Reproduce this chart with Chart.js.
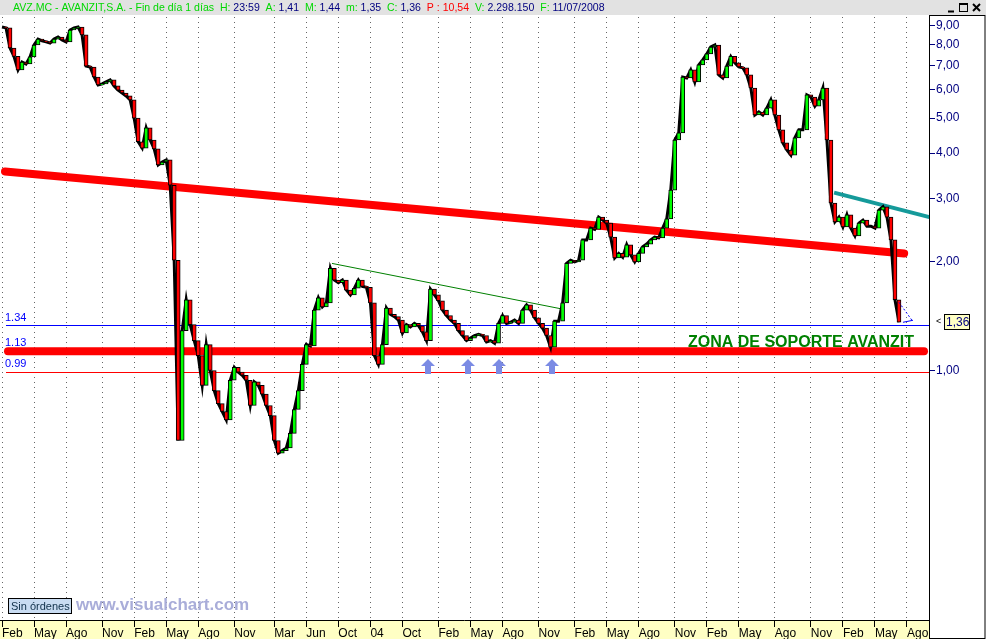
<!DOCTYPE html>
<html lang="es">
<head>
<meta charset="utf-8">
<title>AVZ.MC - AVANZIT</title>
<script src="https://cdn.jsdelivr.net/npm/chart.js@4/dist/chart.umd.min.js"></script>
<style>
  html, body { margin: 0; padding: 0; background: #fff; }
  #grafico { display: block; }
</style>
</head>
<body>
<canvas id="grafico" width="986" height="639"></canvas>
<script>
// Datos (cierres por barra, escala logarítmica)
const totalBarras = 232;
const nombresMes = ["Feb","May","Ago","Nov","Feb","May","Ago","Nov","Mar","Jun","Oct","04","Oct","Feb","May","Ago","Nov","Feb","May","Ago","Nov","Feb","May","Ago","Nov","Feb","May","Ago"];
const indicesMes = [0,8,16,25,33,41,49,58,68,76,84,92,100,109,117,125,134,143,151,159,168,176,184,193,202,210,218,226];

const cierres = [
  8.94, 8.89, 7.82, 7.41, 6.80, 7.15, 7.06, 7.39, 7.97, 8.28,
  8.18, 8.13, 8.07, 8.28, 8.39, 8.23, 8.13, 8.77, 8.89, 8.94,
  8.50, 6.97, 6.93, 6.50, 6.18, 6.22, 6.30, 6.38, 6.14, 5.98,
  5.87, 5.76, 5.62, 5.00, 4.30, 4.13, 4.70, 4.35, 4.11, 3.71,
  3.78, 3.83, 3.26, 2.02, 0.64, 1.29, 1.57, 1.34, 1.21, 1.10,
  0.91, 1.18, 1.00, 0.88, 0.81, 0.77, 0.73, 0.94, 1.02, 0.99,
  0.97, 0.94, 0.80, 0.93, 0.91, 0.86, 0.80, 0.75, 0.64, 0.59,
  0.60, 0.61, 0.67, 0.78, 0.88, 1.04, 1.18, 1.17, 1.47, 1.59,
  1.50, 1.54, 1.92, 1.78, 1.75, 1.78, 1.67, 1.62, 1.69, 1.78,
  1.71, 1.70, 1.54, 1.10, 1.04, 1.18, 1.49, 1.43, 1.41, 1.38,
  1.27, 1.34, 1.32, 1.35, 1.33, 1.28, 1.21, 1.68, 1.62, 1.56,
  1.47, 1.42, 1.38, 1.35, 1.29, 1.25, 1.21, 1.23, 1.25, 1.26,
  1.25, 1.20, 1.21, 1.19, 1.35, 1.42, 1.35, 1.36, 1.38, 1.35,
  1.47, 1.52, 1.47, 1.40, 1.35, 1.31, 1.25, 1.16, 1.37, 1.37,
  1.54, 1.98, 2.02, 2.00, 2.02, 2.30, 2.30, 2.48, 2.46, 2.66,
  2.61, 2.56, 2.34, 2.05, 2.11, 2.06, 2.23, 2.09, 2.00, 2.11,
  2.20, 2.24, 2.30, 2.34, 2.33, 2.48, 2.63, 3.16, 4.35, 4.55,
  6.50, 6.46, 6.80, 6.30, 7.02, 7.25, 7.53, 7.87, 7.97, 6.59,
  6.46, 6.97, 7.41, 7.11, 6.93, 6.89, 6.59, 6.06, 5.10, 5.20,
  5.10, 5.33, 5.62, 5.10, 4.64, 4.27, 4.08, 3.95, 4.41, 4.64,
  4.64, 5.80, 5.72, 5.40, 5.62, 6.06, 4.35, 2.91, 2.58, 2.66,
  2.50, 2.70, 2.48, 2.36, 2.56, 2.61, 2.51, 2.51, 2.48, 2.78,
  2.84, 2.66, 2.30, 1.57, 1.36
];

const valoresEje = [1, 2, 3, 4, 5, 6, 7, 8, 9];
const ultimoPrecio = 1.36;

// Niveles horizontales y líneas de tendencia (índice de barra, precio)
const nivelSoporteAlto = 1.34;
const nivelSoporte = 1.13;
const nivelSoporteBajo = 0.99;
const resistenciaRoja = [[0.75, 3.56], [225.3, 2.11]];
const directrizVerde = [[82.4, 1.98], [139.9, 1.48]];
const directrizAzul = [[207.8, 3.11], [231.6, 2.66]];
const flechasSoporte = [106.5, 116.3, 124, 137.3];
const precioFlechas = 1.075;

const fuente = "'Liberation Sans', Arial, sans-serif";

// etiquetas del eje x: una por barra, vacía salvo en los meses
const etiquetas = new Array(totalBarras).fill("");
indicesMes.forEach((idx, k) => { etiquetas[idx] = nombresMes[k]; });

// cuerpo de la vela: del cierre anterior al cierre actual
const cuerpos = cierres.map((c, i) => [i > 0 ? cierres[i - 1] : c, c]);
const coloresCuerpo = cuerpos.map(([a, c]) => (c >= a ? "#00ff00" : "#ff0000"));

function linea(ctx, x1, y1, x2, y2, color, ancho, cap) {
    ctx.save();
    ctx.strokeStyle = color;
    ctx.lineWidth = ancho;
    ctx.lineCap = cap || "butt";
    ctx.beginPath();
    ctx.moveTo(x1, y1);
    ctx.lineTo(x2, y2);
    ctx.stroke();
    ctx.restore();
}

const decoracion = {
    id: "decoracion",
    beforeDraw(chart) {
        const ctx = chart.ctx;
        const area = chart.chartArea;
        ctx.save();
        ctx.fillStyle = "#ffffff";
        ctx.fillRect(0, 0, chart.width, chart.height);
        // banda del eje de fechas
        ctx.fillStyle = "#ffffc4";
        ctx.fillRect(0, area.bottom, area.right, chart.height - area.bottom);
        // barra de título
        ctx.fillStyle = "#e2e2e2";
        ctx.fillRect(0, 0, chart.width, 15);
        ctx.restore();
    },
    beforeDatasetsDraw(chart) {
        const ctx = chart.ctx;
        const sx = chart.scales.x, sy = chart.scales.y;
        const area = chart.chartArea;
        const px = i => sx.getPixelForValue(i);
        const py = v => sy.getPixelForValue(v);

        // niveles horizontales
        linea(ctx, 6, Math.round(py(nivelSoporteAlto)) + 0.5, area.right, Math.round(py(nivelSoporteAlto)) + 0.5, "#0000ff", 1);
        linea(ctx, 6, Math.round(py(nivelSoporteBajo)) + 0.5, area.right, Math.round(py(nivelSoporteBajo)) + 0.5, "#ff0000", 1);
        linea(ctx, 8, py(nivelSoporte), area.right - 5, py(nivelSoporte), "#ff0000", 8, "round");

        // líneas de tendencia
        linea(ctx, px(resistenciaRoja[0][0]), py(resistenciaRoja[0][1]), px(resistenciaRoja[1][0]), py(resistenciaRoja[1][1]), "#ff0000", 8, "round");
        linea(ctx, px(directrizVerde[0][0]), py(directrizVerde[0][1]), px(directrizVerde[1][0]), py(directrizVerde[1][1]), "#008000", 1);
        linea(ctx, px(directrizAzul[0][0]), py(directrizAzul[0][1]), px(directrizAzul[1][0]), py(directrizAzul[1][1]), "#159a9a", 4);

        // rótulos de los niveles
        ctx.save();
        ctx.fillStyle = "#0000ff";
        ctx.font = "11px " + fuente;
        ctx.textBaseline = "alphabetic";
        ctx.fillText("1.34", 5, py(nivelSoporteAlto) - 4);
        ctx.fillText("1.13", 5, py(nivelSoporte) - 5);
        ctx.fillText("0.99", 5, py(nivelSoporteBajo) - 5);
        ctx.restore();
    },
    afterDatasetsDraw(chart) {
        const ctx = chart.ctx;
        const sx = chart.scales.x, sy = chart.scales.y;
        const px = i => sx.getPixelForValue(i);
        const py = v => sy.getPixelForValue(v);

        // flechas de soporte
        ctx.save();
        ctx.fillStyle = "#7b8be4";
        flechasSoporte.forEach(i => {
            const x = Math.round(px(i));
            const y = Math.round(py(precioFlechas));
            ctx.beginPath();
            ctx.moveTo(x, y);
            ctx.lineTo(x + 7, y + 7);
            ctx.lineTo(x + 3, y + 7);
            ctx.lineTo(x + 3, y + 15);
            ctx.lineTo(x - 3, y + 15);
            ctx.lineTo(x - 3, y + 7);
            ctx.lineTo(x - 7, y + 7);
            ctx.closePath();
            ctx.fill();
        });
        ctx.restore();

        // pequeña herramienta de medida al final
        const xf = px(cierres.length - 1), yf = py(ultimoPrecio);
        ctx.save();
        ctx.strokeStyle = "#0000ff";
        ctx.lineWidth = 1;
        ctx.setLineDash([2, 2]);
        ctx.beginPath();
        ctx.moveTo(xf, yf - 20);
        ctx.lineTo(xf + 13, yf - 2);
        ctx.stroke();
        ctx.setLineDash([]);
        ctx.beginPath();
        ctx.moveTo(xf + 4, yf);
        ctx.lineTo(xf + 14, yf - 2);
        ctx.stroke();
        ctx.restore();

        // texto de la zona
        ctx.save();
        ctx.fillStyle = "#008000";
        ctx.font = "bold 16px " + fuente;
        ctx.fillText("ZONA DE SOPORTE AVANZIT", 688, 347);
        ctx.restore();
    },
    afterDraw(chart) {
        const ctx = chart.ctx;
        const area = chart.chartArea;
        const sy = chart.scales.y;

        // título con los datos de la sesión
        const verde = "#00d800", azul = "#000080", rojo = "#ff0000";
        const segmentos = [
            ["AVZ.MC - AVANZIT,S.A. - Fin de día 1 días  ", verde],
            ["H: ", verde], ["23:59", azul],
            ["  A: ", verde], ["1,41", azul],
            ["  M: ", verde], ["1,44", azul],
            ["  m: ", verde], ["1,35", azul],
            ["  C: ", verde], ["1,36", azul],
            ["  P : 10,54", rojo],
            ["  V: ", verde], ["2.298.150", azul],
            ["  F: ", verde], ["11/07/2008", azul]
        ];
        ctx.save();
        ctx.font = "12px " + fuente;
        let total = segmentos.reduce((s, [t]) => s + ctx.measureText(t).width, 0);
        const tam = 12 * 592 / total;
        ctx.font = tam.toFixed(2) + "px " + fuente;
        ctx.textBaseline = "middle";
        let x = 13;
        segmentos.forEach(([t, c]) => {
            ctx.fillStyle = c;
            ctx.fillText(t, x, 8);
            x += ctx.measureText(t).width;
        });
        // botones de la ventana
        [946, 958, 971].forEach((bx, k) => {
            ctx.fillStyle = "#e2e2e2";
            ctx.fillRect(bx, 3, 11, 10);
            ctx.strokeStyle = "#000";
            ctx.lineWidth = 1;
            if (k === 0) { linea(ctx, bx + 2, 11.5, bx + 8, 11.5, "#000", 2); }
            if (k === 1) { ctx.strokeRect(bx + 1.5, 3.5, 8, 8); linea(ctx, bx + 1.5, 4.5, bx + 9.5, 4.5, "#000", 1); }
            if (k === 2) { linea(ctx, bx + 2, 4, bx + 9, 11, "#000", 2); linea(ctx, bx + 9, 4, bx + 2, 11, "#000", 2); }
        });
        ctx.restore();

        // marco del eje de precios
        ctx.save();
        ctx.strokeStyle = "#000";
        ctx.lineWidth = 1;
        ctx.strokeRect(area.right + 0.5, 15.5, chart.width - area.right - 1.5, chart.height - 16);
        ctx.beginPath();
        ctx.moveTo(0, area.bottom + 0.5);
        ctx.lineTo(area.right, area.bottom + 0.5);
        ctx.stroke();
        ctx.restore();

        // etiqueta del último precio
        const yl = Math.round(sy.getPixelForValue(ultimoPrecio));
        ctx.save();
        ctx.fillStyle = "#ffffc4";
        ctx.fillRect(944, yl - 8, 26, 16);
        ctx.strokeStyle = "#000";
        ctx.strokeRect(944.5, yl - 7.5, 25, 15);
        ctx.fillStyle = "#000080";
        ctx.font = "12px " + fuente;
        ctx.textBaseline = "middle";
        ctx.fillText(ultimoPrecio.toFixed(2).replace(".", ","), 946, yl + 1);
        ctx.fillStyle = "#000";
        ctx.font = "9px " + fuente;
        ctx.fillText("<", 936, yl);
        ctx.restore();

        // pie: botón y marca
        ctx.save();
        ctx.fillStyle = "#c9dcf2";
        ctx.fillRect(8, 598, 64, 16);
        ctx.strokeStyle = "#000";
        ctx.strokeRect(8.5, 598.5, 63, 15);
        ctx.fillStyle = "#10304a";
        ctx.font = "11px " + fuente;
        ctx.textBaseline = "middle";
        ctx.fillText("Sin órdenes", 11, 607);
        ctx.fillStyle = "#a9add9";
        ctx.font = "bold 17px " + fuente;
        ctx.fillText("www.visualchart.com", 76, 605);
        ctx.restore();
    }
};

const grafico = new Chart(document.getElementById("grafico"), {
    data: {
        labels: etiquetas,
        datasets: [
            {
                type: "bar",
                data: cuerpos,
                backgroundColor: coloresCuerpo,
                borderColor: "#000000",
                borderWidth: 1,
                borderSkipped: false,
                categoryPercentage: 1,
                barPercentage: 1,
                order: 1
            },
            {
                type: "line",
                data: cierres,
                borderColor: "#000000",
                borderWidth: 3,
                pointRadius: 0,
                tension: 0,
                order: 2
            }
        ]
    },
    options: {
        responsive: false,
        animation: false,
        layout: { padding: { top: 17, left: 0, right: 0, bottom: 0 } },
        plugins: { legend: { display: false }, tooltip: { enabled: false } },
        scales: {
            x: {
                type: "category",
                offset: true,
                afterFit: s => { s.height = 19; },
                grid: {
                    offset: false,
                    drawTicks: true,
                    tickLength: 7,
                    lineWidth: 1,
                    color: c => (etiquetas[c.index] ? "#666666" : "rgba(0,0,0,0)"),
                    tickColor: c => (etiquetas[c.index] ? "#000000" : "rgba(0,0,0,0)")
                },
                border: { display: false, dash: [1, 4] },
                ticks: {
                    autoSkip: false,
                    maxRotation: 0,
                    minRotation: 0,
                    align: "start",
                    padding: -1,
                    color: "#000000",
                    font: { family: fuente, size: 12 },
                    callback: (v, i) => etiquetas[i]
                }
            },
            y: {
                type: "logarithmic",
                position: "right",
                min: 0.2037,
                max: 9.53,
                afterBuildTicks: s => { s.ticks = valoresEje.map(v => ({ value: v })); },
                afterFit: s => { s.width = 57; },
                grid: { drawOnChartArea: false, drawTicks: true, tickLength: 6, tickColor: "#000080" },
                border: { display: true, color: "#000000", width: 1 },
                ticks: {
                    color: "#000080",
                    padding: 1,
                    font: { family: fuente, size: 12 },
                    callback: v => Number(v).toFixed(2).replace(".", ",")
                }
            }
        }
    },
    plugins: [decoracion]
});
</script>
</body>
</html>
